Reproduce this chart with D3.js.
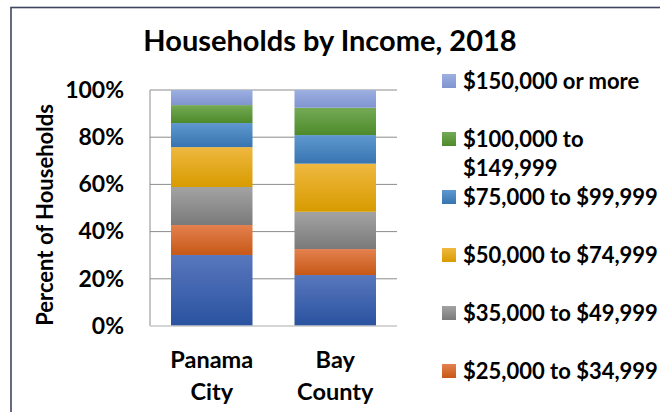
<!DOCTYPE html>
<html>
<head>
<meta charset="utf-8">
<script src="https://cdn.jsdelivr.net/npm/d3@7"></script>
<style>
  body { margin: 0; background: #fff; }
  svg { display: block; font-family: Lato, "Open Sans", sans-serif; font-weight: bold; }
</style>
</head>
<body>
<div id="chart"></div>
<script>
// data (percent of households)
var places = ["Panama City", "Bay County"];
var brackets = ["Less than $25,000", "$25,000 to $34,999", "$35,000 to $49,999",
  "$50,000 to $74,999", "$75,000 to $99,999", "$100,000 to $149,999", "$150,000 or more"];
var panamaCity = [30.1, 12.7, 16.1, 16.9, 10.2, 7.6, 6.4];
var bayCounty = [21.6, 11.0, 15.8, 20.4, 12.1, 11.6, 7.5];
var yTicks = [0, 20, 40, 60, 80, 100];

// top / bottom colours of each gradient fill
var colTop = ["#5877bd", "#e4814f", "#a3a3a3", "#efb840", "#5f98cf", "#74aa55", "#9cb0e1"];
var colBot = ["#2a52a0", "#c65816", "#7a7a7a", "#d89b00", "#3774b0", "#4e8a2b", "#8094d0"];

var W = 660, H = 412;
var margin = { top: 90, right: 263, bottom: 86, left: 150 },
  width = W - margin.left - margin.right,
  height = H - margin.top - margin.bottom;

var svg = d3.select("#chart").append("svg")
  .attr("width", W)
  .attr("height", H);

var defs = svg.append("defs");
brackets.forEach(function(b, i) {
  var g = defs.append("linearGradient")
    .attr("id", "grad" + i)
    .attr("x1", 0).attr("y1", 0).attr("x2", 0).attr("y2", 1);
  g.append("stop").attr("offset", "0%").attr("stop-color", colTop[i]);
  g.append("stop").attr("offset", "100%").attr("stop-color", colBot[i]);
});

// outer frame, runs off the right and bottom edge
svg.append("rect")
  .attr("x", 11).attr("y", 7.5)
  .attr("width", 700).attr("height", 450)
  .attr("fill", "none")
  .attr("stroke", "#3f4560")
  .attr("stroke-width", 1.6);

svg.append("text")
  .attr("x", 330).attr("y", 51)
  .attr("text-anchor", "middle")
  .attr("font-size", 29)
  .attr("fill", "#000")
  .text("Households by Income, 2018");

var g = svg.append("g")
  .attr("transform", "translate(" + margin.left + "," + margin.top + ")");

var x = d3.scaleBand()
  .domain(places)
  .range([0, width])
  .paddingInner(0.34)
  .paddingOuter(0.17);

var y = d3.scaleLinear()
  .domain([0, 100])
  .range([height, 0]);

// gridlines
g.append("g")
  .selectAll("line")
  .data(yTicks.filter(function(d) { return d > 0; }))
  .join("line")
  .attr("x1", 0).attr("x2", width)
  .attr("y1", function(d) { return y(d); })
  .attr("y2", function(d) { return y(d); })
  .attr("stroke", "#8c8c8c")
  .attr("stroke-width", 1);

// stacked bars
var table = places.map(function(p, j) {
  var row = { place: p };
  var vals = j === 0 ? panamaCity : bayCounty;
  brackets.forEach(function(b, i) { row[b] = vals[i]; });
  return row;
});
var series = d3.stack().keys(brackets)(table);

g.selectAll("g.series")
  .data(series)
  .join("g")
  .attr("class", "series")
  .attr("fill", function(d, i) { return "url(#grad" + i + ")"; })
  .selectAll("rect")
  .data(function(d) { return d; })
  .join("rect")
  .attr("x", function(d) { return x(d.data.place); })
  .attr("width", x.bandwidth())
  .attr("y", function(d) { return y(d[1]); })
  .attr("height", function(d) { return y(d[0]) - y(d[1]); });

// axes lines
g.append("line")
  .attr("x1", 0).attr("x2", 0).attr("y1", 0).attr("y2", height)
  .attr("stroke", "#8c8c8c");
g.append("line")
  .attr("x1", 0).attr("x2", width).attr("y1", height).attr("y2", height)
  .attr("stroke", "#c8c8c8").attr("stroke-width", 1.5);

// y axis labels
var yAxis = g.append("g")
  .call(d3.axisLeft(y)
    .tickValues(yTicks)
    .tickFormat(function(d) { return d + "%"; })
    .tickSize(0)
    .tickPadding(26));
yAxis.select(".domain").remove();
yAxis.selectAll("text")
  .attr("font-family", "Lato, sans-serif")
  .attr("font-weight", "bold")
  .attr("font-size", 23)
  .attr("fill", "#000");

// category labels, two lines each
g.append("g")
  .selectAll("text")
  .data(places)
  .join("text")
  .attr("text-anchor", "middle")
  .attr("font-size", 23.5)
  .attr("x", function(d) { return x(d) + x.bandwidth() / 2; })
  .attr("y", height + 42)
  .each(function(d) {
    var words = d.split(" ");
    var t = d3.select(this);
    words.forEach(function(w, k) {
      t.append("tspan")
        .attr("x", x(d) + x.bandwidth() / 2)
        .attr("dy", k === 0 ? 0 : 32)
        .text(w);
    });
  });

// y axis title
svg.append("text")
  .attr("transform", "translate(53,215) rotate(-90)")
  .attr("text-anchor", "middle")
  .attr("font-size", 22)
  .text("Percent of Households");

// legend, top bracket first
var legendOrder = brackets.slice().reverse();
var leg = svg.append("g").attr("transform", "translate(442,81)");
var maxW = 200;
var item = leg.selectAll("g")
  .data(legendOrder)
  .join("g")
  .attr("transform", function(d, i) { return "translate(0," + (i * 58) + ")"; });

item.append("rect")
  .attr("x", 0).attr("y", -7)
  .attr("width", 14).attr("height", 14)
  .attr("fill", function(d) { return "url(#grad" + brackets.indexOf(d) + ")"; });

item.append("text")
  .attr("x", 21)
  .attr("y", 8)
  .attr("font-size", 22)
  .each(function(d) {
    var t = d3.select(this);
    var words = d.split(" ");
    var line = [];
    var span = t.append("tspan").attr("x", 21).attr("dy", 0);
    words.forEach(function(w) {
      line.push(w);
      span.text(line.join(" "));
      if (span.node().getComputedTextLength() > maxW && line.length > 1) {
        line.pop();
        span.text(line.join(" "));
        line = [w];
        span = t.append("tspan").attr("x", 21).attr("dy", 29).text(w);
      }
    });
  });
</script>
</body>
</html>
